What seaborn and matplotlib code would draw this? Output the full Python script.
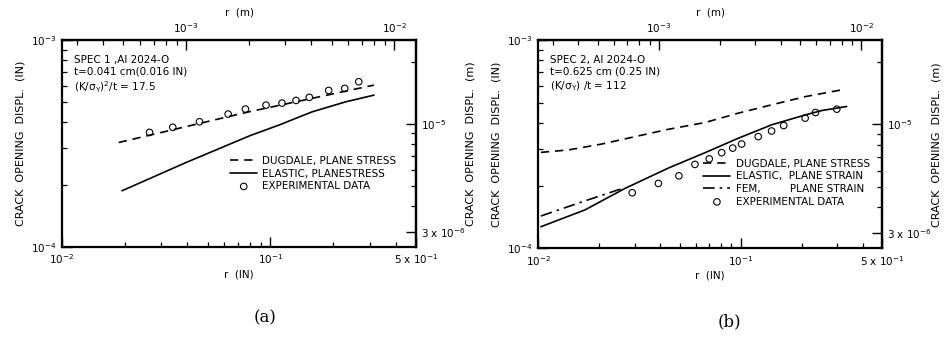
import numpy as np
import pandas as pd
import matplotlib
matplotlib.use("Agg")
import matplotlib.pyplot as plt
from matplotlib.ticker import NullFormatter
import seaborn as sns

# panel (a): SPEC 1
a_dug_r = [0.0187, 0.0787, 0.1585, 0.3142]
a_dug_cod = [3.20e-4, 4.50e-4, 5.23e-4, 6.06e-4]
a_ela_r = [0.0194, 0.0390, 0.0802, 0.1096, 0.1585, 0.2296, 0.3142]
a_ela_cod = [1.87e-4, 2.55e-4, 3.46e-4, 3.88e-4, 4.50e-4, 5.03e-4, 5.42e-4]
a_exp_r = [0.0263, 0.0340, 0.0457, 0.0627, 0.0759, 0.0953, 0.1137, 0.1328,
           0.1538, 0.1905, 0.2275, 0.2655]
a_exp_cod = [3.58e-4, 3.79e-4, 4.03e-4, 4.39e-4, 4.64e-4, 4.85e-4, 4.96e-4,
             5.11e-4, 5.29e-4, 5.71e-4, 5.84e-4, 6.29e-4]

# panel (b): SPEC 2
b_dug_r = [0.0103, 0.0141, 0.0206, 0.0301, 0.0439, 0.0666, 0.0973, 0.1422, 0.2077, 0.3272]
b_dug_cod = [2.89e-4, 2.97e-4, 3.17e-4, 3.44e-4, 3.73e-4, 4.02e-4, 4.46e-4, 4.89e-4, 5.35e-4, 5.81e-4]
b_ela_r = [0.0103, 0.0170, 0.0268, 0.0439, 0.0666, 0.0973, 0.1422, 0.2077, 0.2512, 0.3334]
b_ela_cod = [1.27e-4, 1.53e-4, 1.94e-4, 2.43e-4, 2.88e-4, 3.38e-4, 3.92e-4, 4.37e-4, 4.59e-4, 4.80e-4]
b_fem_r = [0.0103, 0.0158, 0.0248, 0.0268]
b_fem_cod = [1.43e-4, 1.65e-4, 1.91e-4, 1.94e-4]
b_exp_r = [0.0291, 0.0392, 0.0495, 0.0594, 0.0699, 0.0805, 0.0913, 0.101,
           0.122, 0.142, 0.163, 0.208, 0.234, 0.298]
b_exp_cod = [1.85e-4, 2.05e-4, 2.23e-4, 2.53e-4, 2.69e-4, 2.88e-4, 3.03e-4,
             3.17e-4, 3.44e-4, 3.66e-4, 3.89e-4, 4.22e-4, 4.49e-4, 4.66e-4]

a_labels = ["DUGDALE, PLANE STRESS", "ELASTIC, PLANESTRESS", "EXPERIMENTAL DATA"]
b_labels = ["DUGDALE, PLANE STRESS", "ELASTIC,  PLANE STRAIN",
            "FEM,         PLANE STRAIN", "EXPERIMENTAL DATA"]
a_note = "SPEC 1 ,Al 2024-O\nt=0.041 cm(0.016 IN)\n(K/$\\sigma_Y$)$^2$/t = 17.5"
b_note = "SPEC 2, Al 2024-O\nt=0.625 cm (0.25 IN)\n(K/$\\sigma_Y$) /t = 112"

IN2M = 0.0254

sns.set_theme(style="ticks", rc={"axes.linewidth": 1.6, "xtick.direction": "in",
                                  "ytick.direction": "in", "axes.edgecolor": "black",
                                  "text.color": "black", "axes.labelcolor": "black",
                                  "xtick.color": "black", "ytick.color": "black",
                                  "lines.dashed_pattern": [5, 3.5],
                                  "lines.dashdot_pattern": [7, 3, 1.5, 3]})
plt.rcParams["font.family"] = ["DejaVu Sans"]
plt.rcParams["mathtext.default"] = "regular"
plt.rcParams["font.size"] = 7.5

fig = plt.figure(figsize=(9.5, 3.37), dpi=100)
ax_a = fig.add_axes([0.0653, 0.267, 0.3726, 0.614])
ax_b = fig.add_axes([0.5666, 0.263, 0.3621, 0.618])


def draw_line(ax, r, cod, style, label):
    df = pd.DataFrame({"r": r, "cod": cod})
    sns.lineplot(data=df, x="r", y="cod", ax=ax, color="black", lw=1.2,
                 linestyle=style, label=label, sort=True)


def draw_exp(ax, r, cod, label):
    df = pd.DataFrame({"r": r, "cod": cod})
    sns.scatterplot(data=df, x="r", y="cod", ax=ax, marker="o", s=22,
                    facecolor="none", edgecolor="black", linewidth=0.8, label=label)


def decorate(ax, note, leg_anchor):
    ax.set_xscale("log")
    ax.set_yscale("log")
    ax.set_xlim(0.01, 0.5)
    ax.set_ylim(1e-4, 1e-3)
    ax.set_xticks([0.01, 0.1, 0.5], labels=["10$^{-2}$", "10$^{-1}$", "5 x 10$^{-1}$"])
    ax.set_xticks([k * 0.01 for k in range(2, 10)] + [0.2, 0.3, 0.4], minor=True)
    ax.set_yticks([1e-4, 1e-3], labels=["10$^{-4}$", "10$^{-3}$"])
    ax.set_yticks([k * 1e-4 for k in range(2, 10)], minor=True)
    ax.xaxis.set_minor_formatter(NullFormatter())
    ax.yaxis.set_minor_formatter(NullFormatter())
    ax.tick_params(which="major", length=7, width=1.0, labelsize=7.5, pad=4)
    ax.tick_params(which="minor", length=3.5, width=0.9)
    ax.set_xlabel("r  (IN)", fontsize=7.5, labelpad=2)
    ax.set_ylabel("CRACK  OPENING  DISPL.  (IN)", fontsize=8, labelpad=4)

    top = ax.secondary_xaxis("top", functions=(lambda x: x * IN2M, lambda x: x / IN2M))
    top.set_xticks([1e-3, 1e-2], labels=["10$^{-3}$", "10$^{-2}$"])
    top.set_xticks([k * 1e-4 for k in range(3, 10)] + [k * 1e-3 for k in range(2, 10)],
                   minor=True)
    top.xaxis.set_minor_formatter(NullFormatter())
    top.tick_params(which="major", direction="in", length=7, width=1.0, labelsize=7.5)
    top.tick_params(which="minor", direction="in", length=3.5, width=0.9)
    top.set_xlabel("r  (m)", fontsize=7.5, labelpad=4)

    right = ax.secondary_yaxis("right", functions=(lambda y: y * IN2M, lambda y: y / IN2M))
    right.set_yticks([3e-6, 1e-5], labels=["3 x 10$^{-6}$", "10$^{-5}$"])
    right.set_yticks([k * 1e-6 for k in range(4, 10)] + [2e-5], minor=True)
    right.yaxis.set_minor_formatter(NullFormatter())
    right.tick_params(which="major", direction="in", length=7, width=1.0, labelsize=7.5)
    right.tick_params(which="minor", direction="in", length=3.5, width=0.9)
    right.set_ylabel("CRACK  OPENING  DISPL.  (m)", fontsize=8, labelpad=0)

    ax.text(0.035, 0.93, note, transform=ax.transAxes, ha="left", va="top",
            fontsize=7.5, linespacing=1.25)
    ax.legend(loc="upper left", bbox_to_anchor=leg_anchor, frameon=False,
              fontsize=7.5, handlelength=2.6, handletextpad=0.5,
              labelspacing=0.25, borderpad=0, borderaxespad=0)


draw_line(ax_a, a_dug_r, a_dug_cod, "--", a_labels[0])
draw_line(ax_a, a_ela_r, a_ela_cod, "-", a_labels[1])
draw_exp(ax_a, a_exp_r, a_exp_cod, a_labels[2])
decorate(ax_a, a_note, (0.475, 0.44))

draw_line(ax_b, b_dug_r, b_dug_cod, "--", b_labels[0])
draw_line(ax_b, b_ela_r, b_ela_cod, "-", b_labels[1])
draw_line(ax_b, b_fem_r, b_fem_cod, "-.", b_labels[2])
draw_exp(ax_b, b_exp_r, b_exp_cod, b_labels[3])
decorate(ax_b, b_note, (0.48, 0.43))

fig.text(0.279, 0.056, "(a)", ha="center", va="center", fontsize=12, family="DejaVu Serif")
fig.text(0.768, 0.045, "(b)", ha="center", va="center", fontsize=12, family="DejaVu Serif")

fig.savefig("out.png", dpi=100)
